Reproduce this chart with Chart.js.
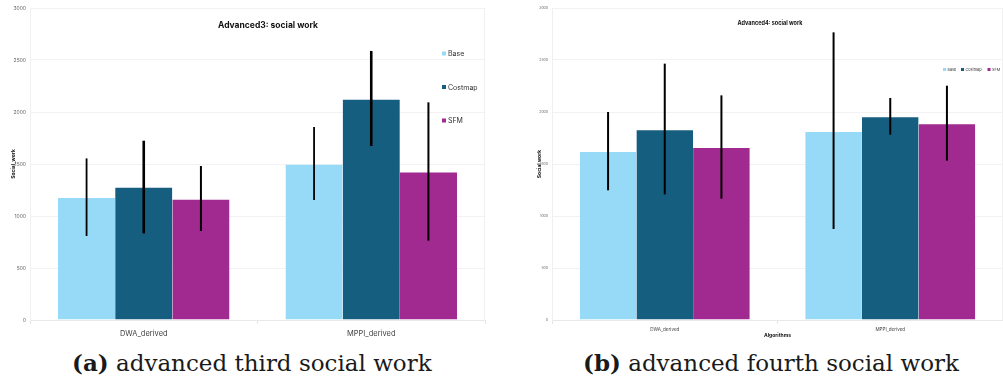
<!DOCTYPE html>
<html>
<head>
<meta charset="utf-8">
<script src="https://cdn.jsdelivr.net/npm/chart.js@4.4.1/dist/chart.umd.min.js"></script>
<style>
  html, body { margin: 0; padding: 0; background: #ffffff; }
  body { width: 1003px; height: 381px; position: relative; overflow: hidden; }
  .panel { position: absolute; top: 0; height: 340px; }
  #p1 { left: 0; width: 500px; }
  #p2 { left: 500px; width: 503px; }
  .cap {
    position: absolute; top: 349px; font-family: "DejaVu Serif", "Liberation Serif", serif;
    font-size: 23px; color: #1a1a1a; white-space: nowrap;
  }
  .cap b { font-weight: bold; }
  #c1 { left: 72px; }
  #c2 { left: 583px; }
</style>
</head>
<body>
<div class="panel" id="p1"><canvas id="chartA" width="500" height="340"></canvas></div>
<div class="panel" id="p2"><canvas id="chartB" width="503" height="340"></canvas></div>
<div class="cap" id="c1"><b>(a)</b> advanced third social work</div>
<div class="cap" id="c2"><b>(b)</b> advanced fourth social work</div>
<script>
// Shared categories, series names and colours
const categories = ['DWA_derived', 'MPPI_derived'];
const seriesNames = ['Base', 'Costmap', 'SFM'];
const seriesColors = ['#97daf7', '#165e80', '#a02a90'];
const yTicks = [0, 500, 1000, 1500, 2000, 2500, 3000];

// Advanced3: mean social work with error bar ends
const adv3Base = [1183, 1503];
const adv3Costmap = [1282, 2128];
const adv3SFM = [1167, 1429];
const adv3BaseLow = [808, 1154];
const adv3BaseHigh = [1554, 1856];
const adv3CostmapLow = [833, 1673];
const adv3CostmapHigh = [1724, 2587];
const adv3SFMLow = [856, 763];
const adv3SFMHigh = [1481, 2093];

// Advanced4: mean social work with error bar ends
const adv4Base = [1625, 1817];
const adv4Costmap = [1833, 1958];
const adv4SFM = [1663, 1891];
const adv4BaseLow = [1247, 875];
const adv4BaseHigh = [2000, 2766];
const adv4CostmapLow = [1208, 1782];
const adv4CostmapHigh = [2465, 2135];
const adv4SFMLow = [1167, 1532];
const adv4SFMHigh = [2160, 2253];

const FONT = 'Inter, "Noto Sans", "DejaVu Sans", sans-serif';

function makeDatasets(values, lows, highs) {
  return values.map((v, i) => ({
    label: seriesNames[i],
    data: v,
    errLow: lows[i],
    errHigh: highs[i],
    backgroundColor: seriesColors[i],
    borderColor: 'rgba(255,255,255,0.35)',
    borderWidth: { top: 1, left: 0, right: 0, bottom: 0 },
    borderSkipped: false,
    categoryPercentage: 0.754,
    barPercentage: 1.0
  }));
}

// Vertical error bars drawn over each bar
const errorBars = {
  id: 'errorBars',
  afterDatasetsDraw(chart, args, opts) {
    const ctx = chart.ctx;
    const y = chart.scales.y;
    ctx.save();
    ctx.strokeStyle = '#000';
    ctx.lineCap = 'butt';
    chart.data.datasets.forEach((ds, di) => {
      const meta = chart.getDatasetMeta(di);
      meta.data.forEach((bar, i) => {
        ctx.lineWidth = (opts.widths && opts.widths[di]) || 2;
        ctx.beginPath();
        ctx.moveTo(bar.x, y.getPixelForValue(ds.errLow[i]));
        ctx.lineTo(bar.x, y.getPixelForValue(ds.errHigh[i]));
        ctx.stroke();
      });
    });
    ctx.restore();
  }
};

// Faint frame line on the right edge of the plot area
const rightEdge = {
  id: 'rightEdge',
  beforeDatasetsDraw(chart) {
    const a = chart.chartArea;
    const ctx = chart.ctx;
    ctx.save();
    ctx.strokeStyle = '#f0f0f0';
    ctx.lineWidth = 1;
    ctx.beginPath();
    ctx.moveTo(Math.round(a.right) - 0.5, a.top);
    ctx.lineTo(Math.round(a.right) - 0.5, a.bottom);
    ctx.stroke();
    ctx.restore();
  }
};

// Title and legend placed inside the plot area
const innerDecor = {
  id: 'innerDecor',
  afterDraw(chart, args, o) {
    const ctx = chart.ctx;
    ctx.save();
    ctx.fillStyle = '#111';
    ctx.font = 'bold ' + o.titleSize + 'px ' + FONT;
    ctx.textAlign = 'center';
    ctx.textBaseline = 'middle';
    ctx.fillText(o.title, o.titleX, o.titleY);
    ctx.font = o.legendSize + 'px ' + FONT;
    ctx.textAlign = 'left';
    chart.data.datasets.forEach((ds, i) => {
      const lx = o.vertical ? o.legendX : o.legendXs[i];
      const ly = o.vertical ? o.legendYs[i] : o.legendY;
      ctx.fillStyle = ds.backgroundColor;
      ctx.fillRect(lx, ly - o.box / 2, o.box, o.box);
      ctx.fillStyle = '#333';
      ctx.fillText(ds.label, lx + o.box + o.gap, ly + 0.5);
    });
    ctx.restore();
  }
};

function buildChart(id, datasets, cfg) {
  return new Chart(document.getElementById(id), {
    type: 'bar',
    data: { labels: categories, datasets },
    options: {
      responsive: false,
      animation: false,
      layout: { padding: { left: 0, right: cfg.padRight, top: 8, bottom: 0 } },
      plugins: {
        legend: { display: false },
        title: { display: false },
        tooltip: { enabled: false },
        errorBars: { widths: cfg.errWidths },
        innerDecor: cfg.decor
      },
      scales: {
        x: {
          offset: true,
          afterFit(s) { s.height = 20; },
          grid: {
            drawOnChartArea: false,
            tickColor: '#e4e4e4',
            tickLength: 4,
            offset: true
          },
          border: { color: '#e8e8e8' },
          ticks: {
            color: '#444',
            font: { family: FONT, size: cfg.xFont },
            padding: cfg.xPad
          },
          title: {
            display: cfg.xTitle !== '',
            text: cfg.xTitle,
            color: '#111',
            font: { family: FONT, size: cfg.xTitleFont, weight: 'bold' },
            padding: { top: 0, bottom: 2 }
          }
        },
        y: {
          min: 0,
          max: 3000,
          afterFit(s) { s.width = cfg.yWidth; },
          afterBuildTicks(s) { s.ticks = yTicks.map(v => ({ value: v })); },
          grid: { color: '#f2f2f2', drawTicks: false },
          border: { color: '#f0f0f0' },
          ticks: {
            color: '#666',
            font: { family: FONT, size: cfg.yFont },
            padding: 4,
            callback: (v) => String(v)
          },
          title: {
            display: true,
            text: cfg.yTitle,
            color: '#111',
            font: { family: FONT, size: cfg.yTitleFont, weight: 'bold' },
            padding: { top: cfg.yTitlePad, bottom: 0 }
          }
        }
      }
    },
    plugins: [rightEdge, errorBars, innerDecor]
  });
}

buildChart('chartA',
  makeDatasets([adv3Base, adv3Costmap, adv3SFM],
               [adv3BaseLow, adv3CostmapLow, adv3SFMLow],
               [adv3BaseHigh, adv3CostmapHigh, adv3SFMHigh]),
  {
    padRight: 15, yWidth: 30, yFont: 5, yTitle: 'Social_work', yTitleFont: 5, yTitlePad: 10,
    xFont: 7.5, xPad: 5, xTitle: '', xTitleFont: 5, errWidths: [1.8, 2.6, 2],
    decor: {
      title: 'Advanced3: social work', titleSize: 8.5, titleX: 268, titleY: 25,
      vertical: true, legendX: 442, legendYs: [53.5, 87, 120.5], legendSize: 7, box: 4, gap: 2
    }
  });

buildChart('chartB',
  makeDatasets([adv4Base, adv4Costmap, adv4SFM],
               [adv4BaseLow, adv4CostmapLow, adv4SFMLow],
               [adv4BaseHigh, adv4CostmapHigh, adv4SFMHigh]),
  {
    padRight: 0, yWidth: 52, yFont: 3.5, yTitle: 'Social work', yTitleFont: 5, yTitlePad: 36,
    xFont: 4.6, xPad: 3, xTitle: 'Algorithms', xTitleFont: 5, errWidths: [2, 2, 2],
    decor: {
      title: 'Advanced4: social work', titleSize: 5.5, titleX: 270, titleY: 23,
      vertical: false, legendXs: [443, 461, 487.5], legendY: 69.5, legendSize: 3.8, box: 3, gap: 1.5
    }
  });
</script>
</body>
</html>
